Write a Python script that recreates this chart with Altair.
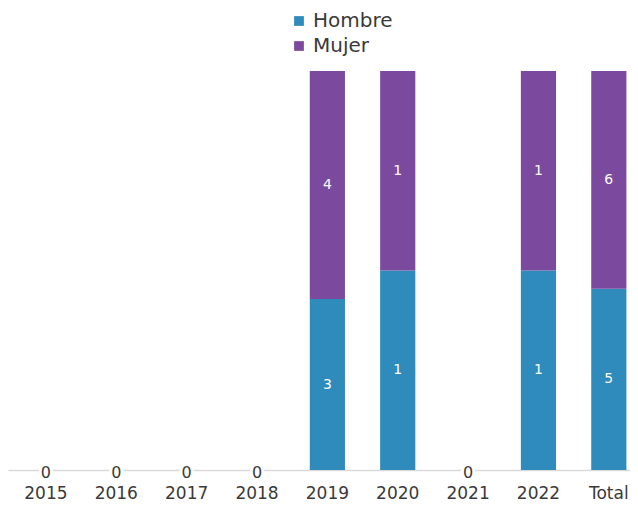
import altair as alt
import pandas as pd

years = ["2015", "2016", "2017", "2018", "2019", "2020", "2021", "2022", "Total"]
hombre = [0, 0, 0, 0, 3, 1, 0, 1, 5]
mujer = [0, 0, 0, 0, 4, 1, 0, 1, 6]
series = ["Hombre", "Mujer"]
colors = ["#2e8bbb", "#7b4a9e"]

rows = []
for i, y in enumerate(years):
    tot = hombre[i] + mujer[i]
    start = 0.0
    for s, v in zip(series, [hombre[i], mujer[i]]):
        if tot > 0:
            frac = v / tot
            rows.append({"year": y, "sexo": s, "valor": v, "y0": start, "y1": start + frac,
                         "mid": start + frac / 2, "order": series.index(s)})
            start += frac
df = pd.DataFrame(rows)
zeros = pd.DataFrame({"year": [y for i, y in enumerate(years) if hombre[i] + mujer[i] == 0],
                      "valor": [0 for i, y in enumerate(years) if hombre[i] + mujer[i] == 0]})

FONT = "DejaVu Sans"
TXT = "#3a3a3a"
xscale = alt.Scale(domain=years, paddingInner=0.5, paddingOuter=0.17, align=0.85)
x = alt.X("year:N", scale=xscale, sort=years,
          axis=alt.Axis(title=None, labelAngle=0, ticks=False, domainColor="#d9d9d9",
                        domainWidth=1.5, labelFontSize=17, labelFont=FONT, labelColor=TXT,
                        labelPadding=15))
yscale = alt.Scale(domain=[0, 1], nice=False)

bars = alt.Chart(df).mark_bar().encode(
    x=x,
    y=alt.Y("y0:Q", scale=yscale, axis=None),
    y2="y1:Q",
    color=alt.Color("sexo:N", scale=alt.Scale(domain=series, range=colors),
                    legend=alt.Legend(title=None, orient="none", legendX=281, legendY=-60,
                                      symbolType="square", symbolSize=95, symbolStrokeWidth=0,
                                      labelFontSize=20, labelFont=FONT, labelColor=TXT,
                                      rowPadding=5, labelOffset=4)),
)

labels = alt.Chart(df).mark_text(color="white", fontSize=14, font=FONT, baseline="middle").encode(
    x=alt.X("year:N", scale=xscale, sort=years),
    y=alt.Y("mid:Q", scale=yscale),
    text="valor:Q",
)

zero_bg = alt.Chart(zeros).mark_square(color="white", opacity=1, size=200).encode(
    x=alt.X("year:N", scale=xscale, sort=years),
    y=alt.Y("valor:Q", scale=yscale),
)
zero_txt = alt.Chart(zeros).mark_text(color=TXT, fontSize=16, font=FONT,
                                      baseline="middle", dy=3).encode(
    x=alt.X("year:N", scale=xscale, sort=years),
    y=alt.Y("valor:Q", scale=yscale),
    text="valor:Q",
)

chart = alt.layer(bars, labels, zero_bg, zero_txt).properties(
    width=622, height=399,
    autosize=alt.AutoSizeParams(type="none"),
    padding={"left": 0, "top": 63, "right": 0, "bottom": 40},
).configure_view(stroke=None)

chart.save("out.html", embed_options={"renderer": "svg", "actions": False})
